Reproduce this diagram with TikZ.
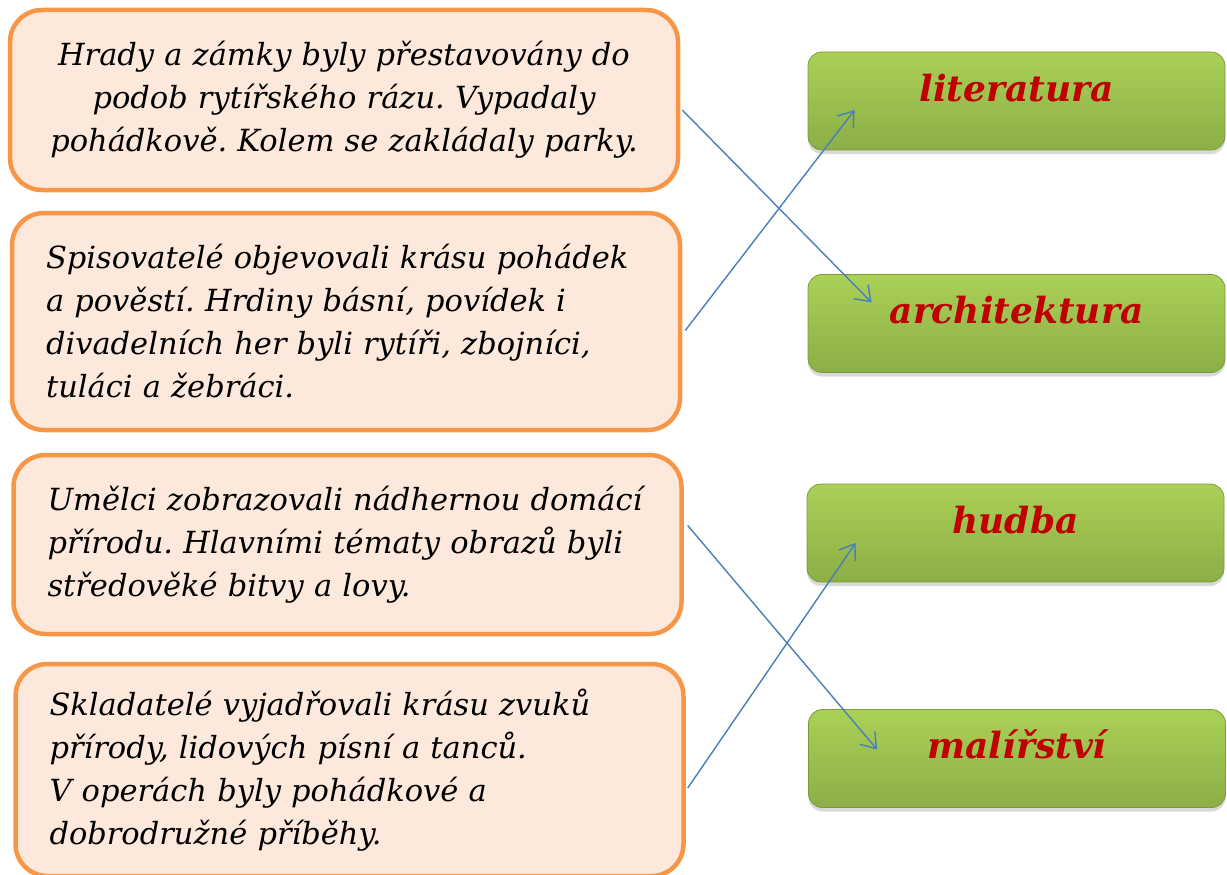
\documentclass[tikz,border=0pt]{standalone}
\usepackage{fontspec}
\setmainfont{DejaVu Serif}
\usetikzlibrary{arrows.meta,shadows}

\definecolor{ramec}{HTML}{F79646}
\definecolor{vypln}{HTML}{FDE9DC}
\definecolor{zelenaH}{HTML}{AAD156}
\definecolor{zelenaD}{HTML}{8CAE47}
\definecolor{zelenaR}{HTML}{7A9A3C}
\definecolor{modra}{HTML}{4A7EBB}
\definecolor{cervena}{HTML}{C00000}

\frenchspacing

\begin{document}
\begin{tikzpicture}[x=1pt, y=-1pt,
  popis/.style={draw=ramec, line width=4.5pt, fill=vypln, rounded corners=32pt,
    text width=600pt, inner xsep=34pt, minimum height=#1,
    font=\fontsize{30.5}{43}\selectfont\itshape},
  obor/.style={draw=zelenaR, line width=.8pt, top color=zelenaH, bottom color=zelenaD,
    rounded corners=14pt, minimum width=417pt, minimum height=98pt,
    text height=25pt, text depth=25pt, text=cervena,
    font=\fontsize{36}{40}\selectfont\bfseries\itshape,
    drop shadow={shadow xshift=0pt, shadow yshift=-4pt, opacity=.3}},
  spoj/.style={draw=modra, line width=1.4pt,
    -{Straight Barb[length=14pt, width=20pt]}}]

  \useasboundingbox (0,0) rectangle (1227,875);

  % popisy vlevo
  \node[popis=180pt, align=center] (hrady) at (344,100)
    {Hrady a zámky byly přestavovány do\\ podob rytířského rázu. Vypadaly\\ pohádkově. Kolem se zakládaly parky.};
  \node[popis=217pt, align=left] (spis) at (346,321.5)
    {Spisovatelé objevovali krásu pohádek\\ a pověstí. Hrdiny básní, povídek i\\ divadelních her byli rytíři, zbojníci,\\ tuláci a žebráci.};
  \node[popis=179pt, align=left] (umel) at (347.5,544.5)
    {Umělci zobrazovali nádhernou domácí\\ přírodu. Hlavními tématy obrazů byli\\ středověké bitvy a lovy.};
  \node[popis=212pt, align=left] (sklad) at (349.5,770)
    {Skladatelé vyjadřovali krásu zvuků\\ přírody, lidových písní a tanců.\\ V operách byly pohádkové a\\ dobrodružné příběhy.};

  % obory vpravo
  \node[obor] (lit)   at (1016.5,101)   {literatura};
  \node[obor] (arch)  at (1016.5,323.5) {architektura};
  \node[obor] (hudba) at (1015.5,533)   {hudba};
  \node[obor] (mal)   at (1017,758.5)   {malířství};

  \draw[spoj] ([shift={(2,10)}]hrady.east) -- ([shift={(64,-21)}]arch.west);
  \draw[spoj] ([shift={(3,9)}]spis.east)   -- ([shift={(47,9)}]lit.west);
  \draw[spoj] ([shift={(4,-19)}]umel.east) -- ([shift={(69,-9)}]mal.west);
  \draw[spoj] ([shift={(2,18)}]sklad.east) -- ([shift={(49,10)}]hudba.west);

\end{tikzpicture}
\end{document}
